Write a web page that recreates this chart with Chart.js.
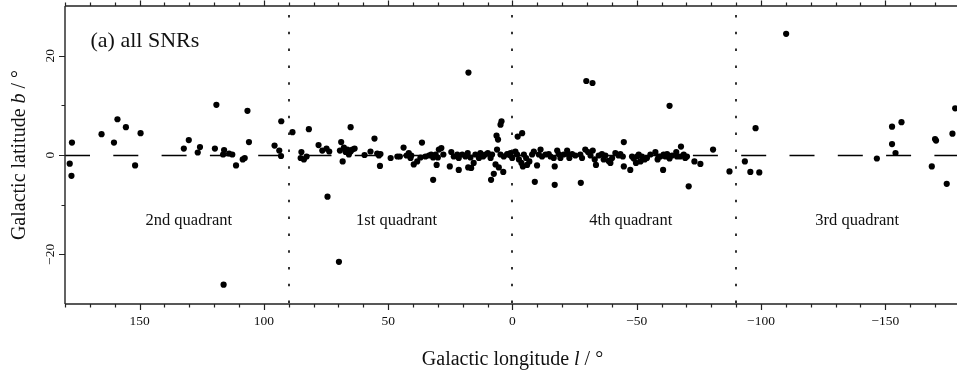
<!DOCTYPE html>
<html>
<head>
<meta charset="utf-8">
<script src="https://cdn.jsdelivr.net/npm/chart.js@4.4.1/dist/chart.umd.min.js"></script>
<style>
html,body{margin:0;padding:0;background:#fff;overflow:hidden;width:957px;height:376px;}
canvas{display:block;}
</style>
</head>
<body>
<canvas id="c" width="963" height="376"></canvas>
<script>
// ---- Data: Galactic longitude l (deg) and latitude b (deg) of SNRs ----
const lonQ2 = [177.2,178.1,177.4,165.3,158.9,160.3,155.5,151.8,149.6,132.2,130.2,126.6,125.7,119.1,119.7,116.0,116.4,114.0,112.7,111.2,108.5,107.7,106.6,106.0,116.2,95.7,93.8,93.1,93.0];
const latQ2 = [2.5,-1.75,-4.2,4.2,7.2,2.5,5.6,-2.1,4.4,1.3,3.0,0.5,1.6,10.1,1.3,1.0,0.1,0.3,0.1,-2.1,-0.9,-0.6,8.9,2.6,-26.1,1.9,0.9,-0.2,6.8];

const lonQ1 = [88.5,85.2,83.9,82.8,81.9,84.9,78.0,76.5,74.8,73.7,74.4,69.8,68.9,69.4,67.8,67.1,66.4,65.8,65.1,64.4,63.5,68.3,65.1,59.5,57.1,55.5,54.4,53.7,53.1,53.3,49.0,46.3,45.3,43.8,42.6,41.7,40.7,41.0,39.7,38.3,36.4,37.0,35.0,33.6,32.7,31.9,30.9,30.0,29.6,28.6,27.8,30.5,31.9,25.2,24.6,23.6,22.2,21.6,21.6,20.2,18.9,18.0,16.9,17.8,16.6,15.6,14.9,13.5,12.9,11.8,10.9,9.9,8.8,8.2,8.6,7.5,6.8,6.4,5.8,6.2,4.8,4.4,5.5,3.7,4.8,3.5,2.1,0.8,17.7];
const latQ1 = [4.6,-0.6,-0.9,-0.3,5.2,0.6,2.0,0.9,1.3,0.7,-8.4,-21.5,2.6,0.9,1.5,0.6,1.1,0.1,0.7,1.1,1.3,-1.3,5.6,0.0,0.7,3.3,0.3,-0.1,0.2,-2.2,-0.6,-0.3,-0.3,1.5,-0.1,0.4,-0.1,-0.6,-1.9,-1.3,2.5,-0.5,-0.3,-0.1,0.1,-0.5,0.1,-0.5,1.1,1.4,0.1,-2.0,-5.0,-2.3,0.6,-0.3,0.1,-0.6,-3.0,0.1,-0.3,0.4,-0.5,-2.5,-2.6,-1.6,0.1,-0.6,0.4,-0.3,0.1,0.4,-0.6,0.1,-5.0,-3.8,-1.9,3.9,3.1,1.1,6.1,6.8,-2.5,-3.4,0.1,-0.3,0.2,-0.1,16.6];

const lonQ4 = [2.1,0.8,0.1,-1.2,-1.9,-2.6,-3.6,-4.2,-4.6,-5.5,-5.9,-6.8,-7.9,-8.6,-9.9,-10.6,-11.3,-11.9,-13.3,-14.6,-15.3,-16.6,-17.0,-18.0,-18.6,-19.3,-20.6,-22.0,-22.6,-22.9,-24.0,-25.3,-27.3,-28.0,-29.3,-30.4,-31.4,-32.3,-33.1,-33.6,-34.7,-36.0,-36.7,-37.4,-38.7,-39.4,-40.1,-41.4,-42.7,-43.4,-44.4,-44.8,-44.8,-47.4,-48.1,-48.8,-49.7,-50.1,-50.8,-51.5,-52.1,-53.2,-54.1,-55.5,-57.5,-58.8,-9.0,-17.0,-27.5,-2.1,-3.9,-29.7,-32.2,-58.4,-59.5,-60.8,-61.5,-62.2,-63.2,-64.2,-65.9,-66.2,-67.8,-67.5,-68.9,-69.5,-70.2,-73.2,-75.6,-80.7,-60.6,-70.9,-63.2,-87.3];
const latQ4 = [0.1,0.4,-0.6,0.7,0.1,-0.9,-1.6,-2.3,0.1,-0.6,-2.0,-1.3,0.1,0.7,-2.1,0.1,1.1,-0.3,0.1,0.2,-0.3,-0.6,-2.3,0.9,0.2,-0.6,0.1,0.9,0.1,-0.6,0.2,-0.1,0.1,-0.6,1.1,0.6,-0.1,0.9,-0.9,-2.0,-0.1,0.2,-0.9,-0.1,-1.2,-1.6,-0.6,0.4,-0.1,0.2,-0.3,2.6,-2.3,-3.0,-0.3,-0.7,-1.6,-0.3,0.1,-1.3,-0.3,-0.9,-0.6,0.1,0.6,-0.3,-5.4,-6.0,-5.6,3.7,4.4,14.9,14.5,-0.9,-0.3,0.1,-0.3,0.2,-0.7,-0.1,0.6,-0.3,1.7,-0.3,0.1,-0.6,-0.3,-1.3,-1.8,1.1,-3.0,-6.3,9.9,-3.3];

const lonQ3 = [-93.5,-95.7,-99.3,-97.8,-110.1,-146.6,-152.7,-156.5,-152.7,-154.1,-168.7,-170.0,-170.4,-174.7,-177.0,-178.1];
const latQ3 = [-1.3,-3.4,-3.5,5.4,24.4,-0.7,5.7,6.6,2.2,0.4,-2.3,3.2,2.9,-5.8,4.3,9.4];

// ---- Axis ticks, reference lines and labels ----
const xMajorTicks = [150,100,50,0,-50,-100,-150];
const yMajorTicks = [20,0,-20];
const quadrantBounds = [90,0,-90];
const quadrantNames = ["2nd quadrant","1st quadrant","4th quadrant","3rd quadrant"];
const quadrantLabelLon = [130.2,46.6,-47.6,-138.7];
const panelLabel = "(a) all SNRs";

const lon = [].concat(lonQ2, lonQ1, lonQ4, lonQ3);
const lat = [].concat(latQ2, latQ1, latQ4, latQ3);
const points = lon.map((l,i)=>({x:l, y:lat[i]}));

const SERIF = '"Liberation Serif","Times New Roman",serif';
const fmt = v => (v < 0 ? '\u2212' + Math.abs(v) : String(v));

const decor = {
  id: 'decor',
  beforeDatasetsDraw(chart){
    const {ctx, chartArea:a, scales:{x,y}} = chart;
    ctx.save();
    ctx.strokeStyle = '#000';
    // dashed b = 0 line
    ctx.lineWidth = 1.4;
    ctx.setLineDash([25, 23.3]);
    ctx.beginPath();
    const y0 = Math.round(y.getPixelForValue(0)) + 0.5;
    ctx.moveTo(x.getPixelForValue(180), y0);
    ctx.lineTo(x.getPixelForValue(-180), y0);
    ctx.stroke();
    // dotted quadrant boundaries
    ctx.lineWidth = 1.6;
    ctx.setLineDash([2.5, 14.3]);
    ctx.lineDashOffset = 7.8;
    quadrantBounds.forEach(v=>{
      const px = Math.round(x.getPixelForValue(v));
      ctx.beginPath();
      ctx.moveTo(px, a.top);
      ctx.lineTo(px, a.bottom);
      ctx.stroke();
    });
    ctx.restore();
  },
  afterDraw(chart){
    const {ctx, chartArea:a, scales:{x,y}} = chart;
    ctx.save();
    ctx.strokeStyle = '#222';
    ctx.lineWidth = 1.4;
    // axis lines: left, bottom, top
    ctx.beginPath();
    ctx.moveTo(a.left, a.top); ctx.lineTo(a.left, a.bottom);
    ctx.moveTo(a.left, a.bottom); ctx.lineTo(a.right, a.bottom);
    ctx.moveTo(a.left, a.top); ctx.lineTo(a.right, a.top);
    ctx.stroke();
    // x ticks (every 10, longer at labelled values)
    ctx.lineWidth = 1.2;
    ctx.beginPath();
    for (let v = 180; v >= -180; v -= 10) {
      const px = Math.round(x.getPixelForValue(v)) + 0.5;
      const major = xMajorTicks.includes(v);
      ctx.moveTo(px, a.bottom); ctx.lineTo(px, a.bottom + (major ? 6 : 3.5));
      ctx.moveTo(px, a.top); ctx.lineTo(px, a.top - (major ? 5.5 : 3.5));
    }
    // y ticks
    for (let v = -20; v <= 20; v += 10) {
      const py = Math.round(y.getPixelForValue(v)) + 0.5;
      const major = yMajorTicks.includes(v);
      ctx.moveTo(a.left, py); ctx.lineTo(a.left - (major ? 6 : 3.5), py);
    }
    ctx.stroke();

    ctx.fillStyle = '#111';
    // x tick labels
    ctx.font = '13.5px ' + SERIF;
    ctx.textAlign = 'center';
    ctx.textBaseline = 'alphabetic';
    xMajorTicks.forEach(v=>{
      ctx.fillText(fmt(v), x.getPixelForValue(v), a.bottom + 20.5);
    });
    // y tick labels (rotated)
    yMajorTicks.forEach(v=>{
      ctx.save();
      ctx.translate(a.left - 11.5, y.getPixelForValue(v));
      ctx.rotate(-Math.PI/2);
      ctx.fillText(fmt(v), 0, 0);
      ctx.restore();
    });

    // mixed-style title helper
    const drawParts = (parts, cx, cy) => {
      let w = 0;
      parts.forEach(p=>{ ctx.font = p[1] + '20px ' + SERIF; p.w = ctx.measureText(p[0]).width; w += p.w; });
      let xx = cx - w/2;
      ctx.textAlign = 'left';
      parts.forEach(p=>{ ctx.font = p[1] + '20px ' + SERIF; ctx.fillText(p[0], xx, cy); xx += p.w; });
    };
    // x title
    drawParts([["Galactic longitude ",""],["l","italic "],[" / \u00b0",""]], 512.5, 364.5);
    // y title
    ctx.save();
    ctx.translate(25, (a.top + a.bottom)/2);
    ctx.rotate(-Math.PI/2);
    drawParts([["Galactic latitude ",""],["b","italic "],[" / \u00b0",""]], 0, 0);
    ctx.restore();

    // panel label
    ctx.font = '22px ' + SERIF;
    ctx.textAlign = 'left';
    ctx.fillText(panelLabel, 90.5, 47);

    // quadrant labels
    ctx.font = '16.5px ' + SERIF;
    ctx.textAlign = 'center';
    quadrantNames.forEach((n,i)=>{
      ctx.fillText(n, x.getPixelForValue(quadrantLabelLon[i]), 225);
    });
    ctx.restore();
  }
};

new Chart(document.getElementById('c'), {
  type: 'scatter',
  data: {
    datasets: [{
      data: points,
      backgroundColor: '#000',
      borderColor: '#000',
      borderWidth: 0,
      pointRadius: 3.1,
      pointHoverRadius: 3.1
    }]
  },
  options: {
    responsive: false,
    animation: false,
    events: [],
    layout: { padding: { left: 65, right: 3, top: 6, bottom: 72 } },
    plugins: { legend: { display: false }, tooltip: { enabled: false } },
    scales: {
      x: { type: 'linear', reverse: true, min: -180, max: 180, display: false },
      y: { type: 'linear', min: -30, max: 30, display: false }
    }
  },
  plugins: [decor]
});
</script>
</body>
</html>
